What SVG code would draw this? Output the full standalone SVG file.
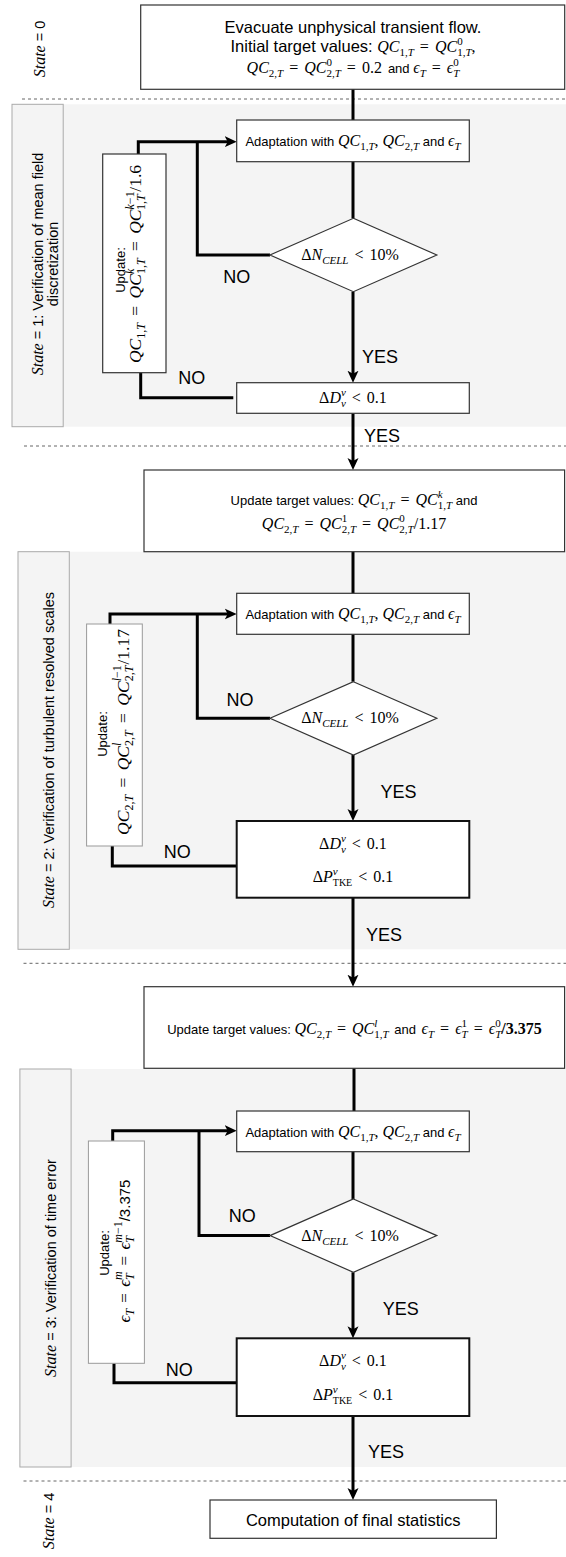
<svg xmlns="http://www.w3.org/2000/svg" width="566" height="1557" viewBox="0 0 566 1557">
<style>
.sans{font-family:"Liberation Sans",Arial,sans-serif}
.math{font-family:"Liberation Serif","Times New Roman","DejaVu Serif",serif}
.ws{word-spacing:2px}
.ws3{word-spacing:3px}
.it{font-style:italic}
.lbl{font-family:"Liberation Sans",Arial,sans-serif;font-size:18px;fill:#000}
.box{fill:#fff;stroke:#333;stroke-width:1.2}
.boxb{fill:#fff;stroke:#111;stroke-width:2}
.ubox{fill:#fff;stroke:#999;stroke-width:1}
.conn{fill:none;stroke:#000;stroke-width:3}
.dash{stroke:#666;stroke-width:1;stroke-dasharray:3 3;fill:none}
.lane{fill:#f4f4f4}
.hdr{fill:#f4f4f4;stroke:#aaa;stroke-width:1}
</style>
<defs>
<marker id="arr" viewBox="0 0 12 12" markerWidth="12" markerHeight="12" refX="4" refY="6" orient="auto" markerUnits="userSpaceOnUse">
<path d="M0,0.5 L12,6 L0,11.5 L3,6 z" fill="#000"/>
</marker>
</defs>

<g id="lanes">
<rect class="lane" x="12" y="104.3" width="554" height="322.4"/>
<rect class="lane" x="18" y="551.7" width="548" height="397.6"/>
<rect class="lane" x="19.9" y="1069" width="546.1" height="398"/>
<line class="dash" x1="22" y1="99" x2="566" y2="99"/>
<line class="dash" x1="24" y1="446" x2="566" y2="446"/>
<line class="dash" x1="23.5" y1="963.3" x2="566" y2="963.3"/>
<line class="dash" x1="23.5" y1="1481" x2="566" y2="1481"/>
</g>

<g id="state0">
<text class="sans" font-size="14.5" transform="translate(45,49) rotate(-90)" text-anchor="middle"><tspan class="math it" font-size="16">State</tspan> = 0</text>
</g>
<g id="state1">
<rect class="hdr" x="12" y="104.3" width="51.2" height="322.4"/>
<text class="sans" font-size="14.5" transform="translate(42.6,264) rotate(-90)" text-anchor="middle"><tspan class="math it" font-size="16">State</tspan> = 1: Verification of mean field</text>
<text class="sans" font-size="14.5" transform="translate(57.8,264) rotate(-90)" text-anchor="middle">discretization</text>
</g>
<g id="state2">
<rect class="hdr" x="18" y="551.7" width="51.3" height="397.6"/>
<text class="sans" font-size="14.5" transform="translate(54,750) rotate(-90)" text-anchor="middle"><tspan class="math it" font-size="16">State</tspan> = 2: Verification of turbulent resolved scales</text>
</g>
<g id="state3">
<rect class="hdr" x="19.9" y="1069" width="51.2" height="398"/>
<text class="sans" font-size="14.5" transform="translate(56,1268) rotate(-90)" text-anchor="middle"><tspan class="math it" font-size="16">State</tspan> = 3: Verification of time error</text>
</g>
<g id="state4">
<text class="sans" font-size="14.5" transform="translate(54,1521) rotate(-90)" text-anchor="middle"><tspan class="math it" font-size="16">State</tspan> = 4</text>
</g>

<g id="connectors">
<path class="conn" d="M353,89 V120"/>
<path class="conn" d="M353,161.7 V218.3"/>
<path class="conn" d="M353,291.7 V374.7" marker-end="url(#arr)"/>
<path class="conn" d="M270,255 H197.3 V141.7"/>
<path class="conn" d="M138.3,154 V141.7 H228.7" marker-end="url(#arr)"/>
<path class="conn" d="M233.3,397.7 H140.7 V372.7"/>
<path class="conn" d="M353,413.3 V462" marker-end="url(#arr)"/>
<path class="conn" d="M353,551.7 V593.3"/>
<path class="conn" d="M353,634.3 V681.7"/>
<path class="conn" d="M353,755 V813" marker-end="url(#arr)"/>
<path class="conn" d="M270,718.3 H197.3 V614"/>
<path class="conn" d="M110,624 V614 H228.7" marker-end="url(#arr)"/>
<path class="conn" d="M236.7,866 H112.3 V846"/>
<path class="conn" d="M353,897.7 V978.7" marker-end="url(#arr)"/>
<path class="conn" d="M354,1068.3 V1111"/>
<path class="conn" d="M353,1151.7 V1199"/>
<path class="conn" d="M353,1272.3 V1330.3" marker-end="url(#arr)"/>
<path class="conn" d="M270,1235.6 H199 V1130.7"/>
<path class="conn" d="M112.7,1141 V1130.7 H228.7" marker-end="url(#arr)"/>
<path class="conn" d="M236.7,1382.7 H114 V1363.3"/>
<path class="conn" d="M353,1416 V1492" marker-end="url(#arr)"/>
</g>

<g id="edge-labels">
<text class="lbl" x="236.7" y="282.5" text-anchor="middle">NO</text>
<text class="lbl" x="380" y="362.5" text-anchor="middle">YES</text>
<text class="lbl" x="191.7" y="384" text-anchor="middle">NO</text>
<text class="lbl" x="382" y="441.5" text-anchor="middle">YES</text>
<text class="lbl" x="240" y="706" text-anchor="middle">NO</text>
<text class="lbl" x="398.5" y="798" text-anchor="middle">YES</text>
<text class="lbl" x="177.3" y="858" text-anchor="middle">NO</text>
<text class="lbl" x="384" y="941" text-anchor="middle">YES</text>
<text class="lbl" x="242.3" y="1222" text-anchor="middle">NO</text>
<text class="lbl" x="400.7" y="1315" text-anchor="middle">YES</text>
<text class="lbl" x="179.3" y="1376" text-anchor="middle">NO</text>
<text class="lbl" x="386" y="1458" text-anchor="middle">YES</text>
</g>

<g id="start">
<rect class="box" x="140.7" y="5" width="424" height="84.3" stroke-width="1.5"/>
<text class="sans" font-size="16.5" x="353" y="33" text-anchor="middle">Evacuate unphysical transient flow.</text>
<text class="math" font-size="16" x="353" y="52" text-anchor="middle"><tspan class="sans" font-size="16.5">Initial target values: </tspan><tspan class="it">QC</tspan><tspan font-size="11" dy="4">1,<tspan class="it">T</tspan></tspan><tspan dy="-4" class="ws"> = </tspan><tspan class="it">QC</tspan><tspan font-size="11" dy="-7">0</tspan><tspan font-size="11" dx="-5.5" dy="11">1,<tspan class="it">T</tspan></tspan><tspan dy="-4">,</tspan></text>
<text class="math ws" font-size="16" x="353" y="73" text-anchor="middle"><tspan class="it">QC</tspan><tspan font-size="11" dy="4">2,<tspan class="it">T</tspan></tspan><tspan dy="-4"> = </tspan><tspan class="it">QC</tspan><tspan font-size="11" dy="-7">0</tspan><tspan font-size="11" dx="-5.5" dy="11">2,<tspan class="it">T</tspan></tspan><tspan dy="-4"> = 0.2 </tspan><tspan class="sans" font-size="13" style="word-spacing:0"> and </tspan><tspan class="it">ϵ</tspan><tspan font-size="11" dy="4" class="it">T</tspan><tspan dy="-4"> = </tspan><tspan class="it">ϵ</tspan><tspan font-size="11" dy="-7">0</tspan><tspan font-size="11" dx="-5.5" dy="11" class="it">T</tspan></text>
</g>

<g id="adapt1">
<rect class="box" x="236.7" y="120" width="232.6" height="41.7"/>
<text class="math" font-size="16" x="353" y="146" text-anchor="middle"><tspan class="sans" font-size="13">Adaptation with </tspan><tspan class="it">QC</tspan><tspan font-size="11" dy="4">1,<tspan class="it">T</tspan></tspan><tspan dy="-4">, </tspan><tspan class="it">QC</tspan><tspan font-size="11" dy="4">2,<tspan class="it">T</tspan></tspan><tspan dy="-4" class="sans" font-size="13"> and </tspan><tspan class="it">ϵ</tspan><tspan font-size="11" dy="4" class="it">T</tspan></text>
</g>
<g id="check1">
<polygon class="box" points="353.4,218.3 436.8,255 353.4,291.7 270,255"/>
<text class="math ws" font-size="16" x="350" y="260" text-anchor="middle">Δ<tspan class="it">N</tspan><tspan class="it" font-size="11" dy="4">CELL</tspan><tspan dy="-4"> &lt; 10%</tspan></text>
</g>
<g id="update1">
<rect class="box" x="102.7" y="154" width="63.3" height="218.7"/>
<text class="sans" font-size="13" transform="translate(125.3,270) rotate(-90)" text-anchor="middle">Update:</text>
<text class="math ws3" font-size="17.5" transform="translate(141,264) rotate(-90)" text-anchor="middle"><tspan class="it">QC</tspan><tspan font-size="12" dy="4">1,<tspan class="it">T</tspan></tspan><tspan dy="-4"> = </tspan><tspan class="it">QC</tspan><tspan font-size="12" dy="-7.5" class="it">k</tspan><tspan font-size="12" dx="-5.3" dy="11.5">1,<tspan class="it">T</tspan></tspan><tspan dy="-4"> = </tspan><tspan class="it">QC</tspan><tspan font-size="12" dy="-7.5"><tspan class="it">k</tspan>−1</tspan><tspan font-size="12" dx="-18.1" dy="11.5">1,<tspan class="it">T</tspan></tspan><tspan dy="-4" dx="2.5">/1.6</tspan></text>
</g>
<g id="dcheck1">
<rect class="box" x="236.7" y="382.7" width="232.6" height="30.6"/>
<text class="math ws" font-size="16" x="353" y="403" text-anchor="middle">Δ<tspan class="it">D</tspan><tspan font-size="11" dy="-7" class="it">ν</tspan><tspan font-size="11" dx="-4.9" dy="11" class="it">ν</tspan><tspan dy="-4"> &lt; 0.1</tspan></text>
</g>

<g id="target2">
<rect class="box" x="144" y="470" width="420.6" height="81.7" stroke-width="1.5"/>
<text class="math" font-size="16" x="354" y="505" text-anchor="middle"><tspan class="sans" font-size="13">Update target values: </tspan><tspan class="it">QC</tspan><tspan font-size="11" dy="4">1,<tspan class="it">T</tspan></tspan><tspan dy="-4" class="ws"> = </tspan><tspan class="it">QC</tspan><tspan font-size="11" dy="-7" class="it">k</tspan><tspan font-size="11" dx="-4.9" dy="11">1,<tspan class="it">T</tspan></tspan><tspan dy="-4" class="sans" font-size="13"> and</tspan></text>
<text class="math ws" font-size="16" x="354" y="529" text-anchor="middle"><tspan class="it">QC</tspan><tspan font-size="11" dy="4">2,<tspan class="it">T</tspan></tspan><tspan dy="-4"> = </tspan><tspan class="it">QC</tspan><tspan font-size="11" dy="-7">1</tspan><tspan font-size="11" dx="-5.5" dy="11">2,<tspan class="it">T</tspan></tspan><tspan dy="-4"> = </tspan><tspan class="it">QC</tspan><tspan font-size="11" dy="-7">0</tspan><tspan font-size="11" dx="-5.5" dy="11">2,<tspan class="it">T</tspan></tspan><tspan dy="-4">/1.17</tspan></text>
</g>

<g id="adapt2">
<rect class="box" x="236.7" y="593.3" width="232.6" height="41"/>
<text class="math" font-size="16" x="353" y="619" text-anchor="middle"><tspan class="sans" font-size="13">Adaptation with </tspan><tspan class="it">QC</tspan><tspan font-size="11" dy="4">1,<tspan class="it">T</tspan></tspan><tspan dy="-4">, </tspan><tspan class="it">QC</tspan><tspan font-size="11" dy="4">2,<tspan class="it">T</tspan></tspan><tspan dy="-4" class="sans" font-size="13"> and </tspan><tspan class="it">ϵ</tspan><tspan font-size="11" dy="4" class="it">T</tspan></text>
</g>
<g id="check2">
<polygon class="box" points="353.4,681.7 436.8,718.3 353.4,755 270,718.3"/>
<text class="math ws" font-size="16" x="350" y="723" text-anchor="middle">Δ<tspan class="it">N</tspan><tspan class="it" font-size="11" dy="4">CELL</tspan><tspan dy="-4"> &lt; 10%</tspan></text>
</g>
<g id="update2">
<rect class="ubox" x="86.6" y="624" width="55.7" height="222"/>
<text class="sans" font-size="13" transform="translate(106.6,734) rotate(-90)" text-anchor="middle">Update:</text>
<text class="math ws3" font-size="17.5" transform="translate(128.5,732) rotate(-90)" text-anchor="middle"><tspan class="it">QC</tspan><tspan font-size="12" dy="4">2,<tspan class="it">T</tspan></tspan><tspan dy="-4"> = </tspan><tspan class="it">QC</tspan><tspan font-size="12" dy="-7.5" class="it">l</tspan><tspan font-size="12" dx="-3.3" dy="11.5">2,<tspan class="it">T</tspan></tspan><tspan dy="-4"> = </tspan><tspan class="it">QC</tspan><tspan font-size="12" dy="-7.5"><tspan class="it">l</tspan>−1</tspan><tspan font-size="12" dx="-16.1" dy="11.5">2,<tspan class="it">T</tspan></tspan><tspan dy="-4" dx="1">/1.17</tspan></text>
</g>
<g id="dcheck2">
<rect class="boxb" x="236.7" y="821" width="232.6" height="76.7"/>
<text class="math ws" font-size="16" x="353" y="848.5" text-anchor="middle">Δ<tspan class="it">D</tspan><tspan font-size="11" dy="-7" class="it">ν</tspan><tspan font-size="11" dx="-4.9" dy="11" class="it">ν</tspan><tspan dy="-4"> &lt; 0.1</tspan></text>
<text class="math ws" font-size="16" x="353" y="881.5" text-anchor="middle">Δ<tspan class="it">P</tspan><tspan font-size="11" dy="-7" class="it">ν</tspan><tspan font-size="10" dx="-4.9" dy="11">TKE</tspan><tspan dy="-4"> &lt; 0.1</tspan></text>
</g>

<g id="target3">
<rect class="box" x="144" y="986.7" width="420.6" height="81.6" stroke-width="1.5"/>
<text class="math ws" font-size="16" x="354.5" y="1034" text-anchor="middle"><tspan class="sans" font-size="13" style="word-spacing:0">Update target values: </tspan><tspan class="it">QC</tspan><tspan font-size="11" dy="4">2,<tspan class="it">T</tspan></tspan><tspan dy="-4"> = </tspan><tspan class="it">QC</tspan><tspan font-size="11" dy="-7" class="it">l</tspan><tspan font-size="11" dx="-3.1" dy="11">1,<tspan class="it">T</tspan></tspan><tspan dy="-4" class="sans" font-size="13"> and </tspan><tspan class="it">ϵ</tspan><tspan font-size="11" dy="4" class="it">T</tspan><tspan dy="-4"> = </tspan><tspan class="it">ϵ</tspan><tspan font-size="11" dy="-7">1</tspan><tspan font-size="11" dx="-5.5" dy="11" class="it">T</tspan><tspan dy="-4"> = </tspan><tspan class="it">ϵ</tspan><tspan font-size="11" dy="-7">0</tspan><tspan font-size="11" dx="-5.5" dy="11" class="it">T</tspan><tspan dy="-4" font-weight="bold">/3.375</tspan></text>
</g>

<g id="adapt3">
<rect class="box" x="236.7" y="1111" width="232.6" height="40.7"/>
<text class="math" font-size="16" x="353" y="1136.5" text-anchor="middle"><tspan class="sans" font-size="13">Adaptation with </tspan><tspan class="it">QC</tspan><tspan font-size="11" dy="4">1,<tspan class="it">T</tspan></tspan><tspan dy="-4">, </tspan><tspan class="it">QC</tspan><tspan font-size="11" dy="4">2,<tspan class="it">T</tspan></tspan><tspan dy="-4" class="sans" font-size="13"> and </tspan><tspan class="it">ϵ</tspan><tspan font-size="11" dy="4" class="it">T</tspan></text>
</g>
<g id="check3">
<polygon class="box" points="353.4,1199 436.8,1235.6 353.4,1272.3 270,1235.6"/>
<text class="math ws" font-size="16" x="350" y="1240.5" text-anchor="middle">Δ<tspan class="it">N</tspan><tspan class="it" font-size="11" dy="4">CELL</tspan><tspan dy="-4"> &lt; 10%</tspan></text>
</g>
<g id="update3">
<rect class="ubox" x="88.4" y="1141" width="56" height="222.3"/>
<text class="sans" font-size="13" transform="translate(109.3,1253) rotate(-90)" text-anchor="middle">Update:</text>
<text class="math ws" font-size="17" transform="translate(129.5,1251) rotate(-90)" text-anchor="middle"><tspan class="it">ϵ</tspan><tspan font-size="12" dy="4" class="it">T</tspan><tspan dy="-4"> = </tspan><tspan class="it">ϵ</tspan><tspan font-size="12" dy="-7.5" class="it">m</tspan><tspan font-size="12" dx="-8.7" dy="11.5" class="it">T</tspan><tspan dy="-4" dx="1.6"> = </tspan><tspan class="it">ϵ</tspan><tspan font-size="12" dy="-7.5"><tspan class="it">m</tspan>−1</tspan><tspan font-size="12" dx="-21.4" dy="11.5" class="it">T</tspan><tspan dy="-4" dx="14.7" class="sans" font-size="15">/3.375</tspan></text>
</g>
<g id="dcheck3">
<rect class="boxb" x="236.7" y="1338.3" width="232.6" height="77.7"/>
<text class="math ws" font-size="16" x="353" y="1365.5" text-anchor="middle">Δ<tspan class="it">D</tspan><tspan font-size="11" dy="-7" class="it">ν</tspan><tspan font-size="11" dx="-4.9" dy="11" class="it">ν</tspan><tspan dy="-4"> &lt; 0.1</tspan></text>
<text class="math ws" font-size="16" x="353" y="1399.5" text-anchor="middle">Δ<tspan class="it">P</tspan><tspan font-size="11" dy="-7" class="it">ν</tspan><tspan font-size="10" dx="-4.9" dy="11">TKE</tspan><tspan dy="-4"> &lt; 0.1</tspan></text>
</g>

<g id="final">
<rect class="box" x="210" y="1500" width="286.4" height="38.3"/>
<text class="sans" font-size="16.5" x="353.2" y="1525.5" text-anchor="middle">Computation of final statistics</text>
</g>
</svg>
